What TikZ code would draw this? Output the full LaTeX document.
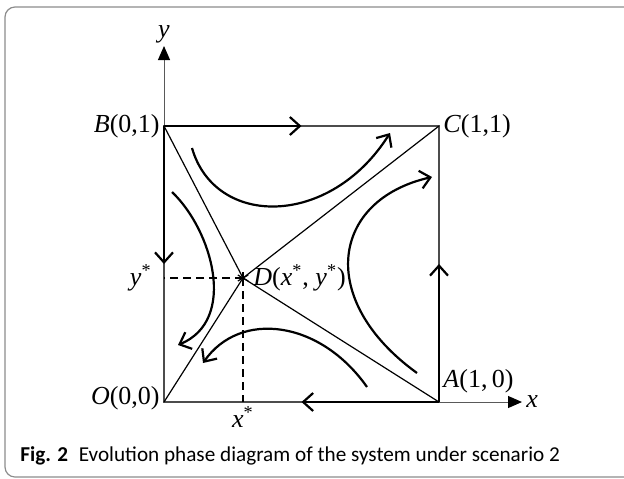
\documentclass[tikz,border=0pt]{standalone}
\usepackage{fontspec}
\setmainfont{Liberation Serif}
\newfontfamily\capfont{Carlito}
\usetikzlibrary{arrows.meta, positioning, calc}

\begin{document}
\begin{tikzpicture}[x=0.5pt, y=-0.5pt,
  axis/.style={draw=black!65, line width=0.5pt,
               -{Triangle[length=7pt, width=6pt, color=black]}},
  edge/.style={draw=black!70, line width=0.6pt},
  flow/.style={line width=1.1pt, -{Straight Barb[length=5pt, width=9pt]}},
  traj/.style={line width=1.1pt, -{Straight Barb[length=5pt, width=9pt]}},
  sep/.style={line width=0.6pt},
  guide/.style={line width=0.6pt, dash pattern=on 4pt off 2.5pt},
  lbl/.style={font=\fontsize{13}{15}\selectfont, inner sep=1pt}
]
\useasboundingbox (0,0) rectangle (624,478);
% figure frame
\begin{scope}
  \clip (0,0) rectangle (624,478);
  \draw[black!45, line width=0.6pt, rounded corners=5pt] (5,7) rectangle (700,477);
\end{scope}
% corner points of the square and the saddle point
\coordinate (O) at (164,402);
\coordinate (A) at (439,402);
\coordinate (B) at (164,126);
\coordinate (C) at (439,126);
\coordinate (D) at (243,278);
\coordinate (ytip) at (164,46);
\coordinate (xtip) at (522,402);
\coordinate (Dy) at (D -| O);
\coordinate (Dx) at (D |- O);
\coordinate (mBC) at ($(B)!0.5!(C)$);
\coordinate (mBO) at ($(B)!0.5!(O)$);
\coordinate (mAO) at ($(A)!0.5!(O)$);
\coordinate (mAC) at ($(A)!0.5!(C)$);
% axes
\draw[axis] (O) -- (ytip);
\draw[axis] (O) -- (xtip);
% square and flows along its edges
\draw[edge] (O) -- (A) -- (C) -- (B) -- cycle;
\draw[flow] (B) -- (mBC);
\draw[flow] (B) -- (mBO);
\draw[flow] (A) -- (mAO);
\draw[flow] (A) -- (mAC);
% separatrices through D
\draw[sep] (B) -- (D) -- (A);
\draw[sep] (O) -- (D) -- (C);
% dashed guides to the axes
\draw[guide] (D) -- (Dy);
\draw[guide] (D) -- (Dx);
\foreach \a in {30,90,150}
  \draw[line width=0.6pt] ($(D)+(\a:6)$) -- ($(D)+(\a+180:6)$);
% trajectories
\draw[traj] (192,148) .. controls (215,228) and (330,228) .. (390,133);
\draw[traj] (172,192) .. controls (212,230) and (238,320) .. (178,345);
\draw[traj] (367,387) .. controls (320,320) and (240,310) .. (203,363);
\draw[traj] (417,373) .. controls (316,300) and (331,200) .. (432,177);
% labels
\node[lbl, left=1pt of B] (Bl) {\textit{B}(0,1)};
\node[lbl, right=1pt of C] (Cl) {\textit{C}(1,1)};
\node[lbl, above right=3.5pt and 1pt of A] (Al) {\textit{A}(1,\,0)};
\node[lbl, anchor=east] (Ol) at ([xshift=-1pt, yshift=2pt]O) {\textit{O}(0,0)};
\node[lbl, right=4pt of D] (Dl) {\textit{D}(\textit{x}\textsuperscript{*}, \textit{y}\textsuperscript{*})};
\node[lbl, left=5pt of Dy] (ys) {\textit{y}\textsuperscript{*}};
\node[lbl, below=1pt of Dx] (xs) {\textit{x}\textsuperscript{*}};
\node[lbl, above=0pt of ytip] (yl) {\textit{y}};
\node[lbl, right=1pt of xtip] (xl) {\textit{x}};
% caption
\node[anchor=west, inner sep=0pt] (cap) at (20,456)
  {\capfont\fontsize{10.6}{12}\selectfont\textbf{Fig. 2}\hspace{0.5em}Evolution phase diagram of the system under scenario 2};
\end{tikzpicture}
\end{document}
